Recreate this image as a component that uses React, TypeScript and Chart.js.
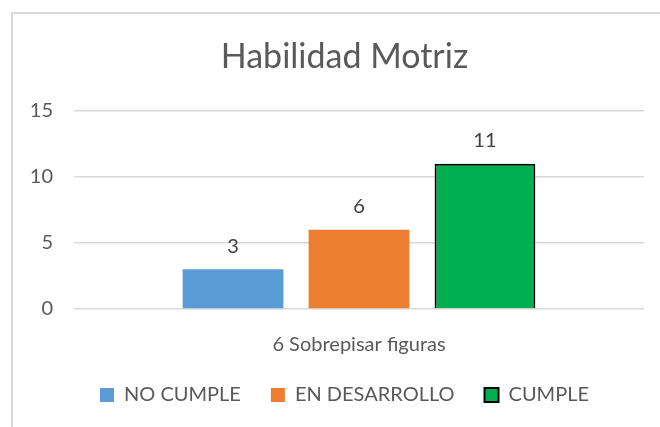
import React, { useEffect, useRef } from "react";
import { Chart, registerables } from "chart.js";

Chart.register(...registerables);

const categories = ["6 Sobrepisar figuras"];
const seriesNames = ["NO CUMPLE", "EN DESARROLLO", "CUMPLE"];
const noCumple = [3];
const enDesarrollo = [6];
const cumple = [11];
const yTickValues = [0, 5, 10, 15];
const chartTitle = "Habilidad Motriz";

const FONT = "Lato, 'Open Sans', sans-serif";

const framePlugin = {
  id: "frame",
  beforeDraw(chart: any) {
    const ctx = chart.ctx;
    ctx.save();
    ctx.fillStyle = "#ffffff";
    ctx.fillRect(0, 0, chart.width, chart.height);
    ctx.strokeStyle = "#d9d9d9";
    ctx.lineWidth = 2;
    ctx.beginPath();
    ctx.moveTo(12, chart.height + 5);
    ctx.lineTo(12, 13);
    ctx.lineTo(chart.width + 5, 13);
    ctx.stroke();
    ctx.restore();
  },
};

// The original frame extends past the right edge, so title and legend are centred on it
const centreShiftPlugin = {
  id: "centreShift",
  afterLayout(chart: any) {
    const shift = 16;
    if (chart.titleBlock) {
      chart.titleBlock.left += shift;
      chart.titleBlock.right += shift;
    }
    if (chart.legend) {
      chart.legend.left += shift;
      chart.legend.right += shift;
    }
  },
};

const dataLabelPlugin = {
  id: "dataLabels",
  afterDatasetsDraw(chart: any) {
    const ctx = chart.ctx;
    ctx.save();
    ctx.font = `20px ${FONT}`;
    ctx.fillStyle = "#404040";
    ctx.textAlign = "center";
    ctx.textBaseline = "middle";
    chart.data.datasets.forEach((ds: any, i: number) => {
      const meta = chart.getDatasetMeta(i);
      meta.data.forEach((bar: any, j: number) => {
        ctx.fillText(String(ds.data[j]), bar.x, bar.y - 23);
      });
    });
    ctx.restore();
  },
};

export default function App() {
  const ref = useRef<HTMLCanvasElement | null>(null);

  useEffect(() => {
    if (!ref.current) return;
    const chart = new Chart(ref.current, {
      type: "bar",
      data: {
        labels: categories,
        datasets: [
          {
            label: seriesNames[0],
            data: noCumple,
            backgroundColor: "#5B9BD5",
            borderWidth: 0,
          },
          {
            label: seriesNames[1],
            data: enDesarrollo,
            backgroundColor: "#ED7D31",
            borderWidth: 0,
          },
          {
            label: seriesNames[2],
            data: cumple,
            backgroundColor: "#00B050",
            borderColor: "#000000",
            borderWidth: 2,
          },
        ],
      },
      options: {
        responsive: false,
        animation: false,
        datasets: {
          bar: {
            categoryPercentage: 0.663,
            barPercentage: 0.8,
          },
        },
        layout: {
          padding: { left: 13, right: 16, top: 13, bottom: 12 },
        },
        plugins: {
          title: {
            display: true,
            text: chartTitle,
            color: "#595959",
            font: { family: FONT, size: 34, weight: "normal" },
            padding: { top: 24, bottom: 33 },
          },
          legend: {
            display: true,
            position: "bottom",
            labels: {
              color: "#595959",
              font: { family: FONT, size: 20 },
              boxWidth: 14,
              boxHeight: 14,
              padding: 30,
            },
          },
          tooltip: { enabled: false },
        },
        scales: {
          x: {
            grid: { display: false },
            border: { display: false },
            afterFit: (scale: any) => {
              scale.height = 46;
            },
            ticks: {
              color: "#595959",
              font: { family: FONT, size: 20 },
              padding: 16,
            },
          },
          y: {
            min: 0,
            max: 15,
            afterBuildTicks: (scale: any) => {
              scale.ticks = yTickValues.map((v) => ({ value: v }));
            },
            afterFit: (scale: any) => {
              scale.width = 61;
            },
            grid: {
              color: "#d9d9d9",
              lineWidth: 1.5,
              drawTicks: false,
            },
            border: { display: false },
            ticks: {
              color: "#595959",
              font: { family: FONT, size: 20 },
              padding: 21,
            },
          },
        },
      },
      plugins: [framePlugin, centreShiftPlugin, dataLabelPlugin],
    });
    return () => chart.destroy();
  }, []);

  return (
    <div style={{ position: "fixed", left: 0, top: 0, width: 660, height: 427, overflow: "hidden" }}>
      <canvas ref={ref} width={660} height={427} style={{ display: "block" }} />
    </div>
  );
}
